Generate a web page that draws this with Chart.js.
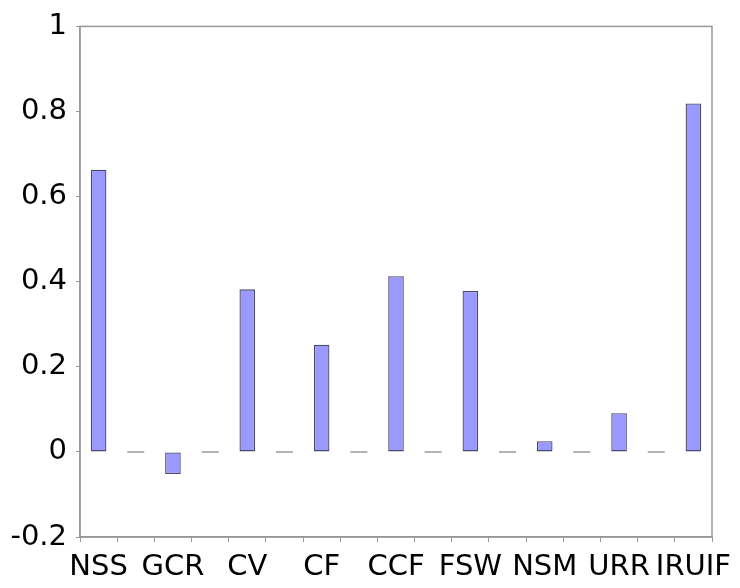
<!DOCTYPE html>
<html>
<head>
<meta charset="utf-8">
<script src="https://cdn.jsdelivr.net/npm/chart.js@4"></script>
<style>
    html, body { margin: 0; padding: 0; background: #fff; }
    #wrap { width: 740px; height: 588px; }
</style>
</head>
<body>
<div id="wrap"><canvas id="chart" width="740" height="588"></canvas></div>
<script>
// categories (empty slots sit between the named bars)
const categories = ['NSS', '', 'GCR', '', 'CV', '', 'CF', '', 'CCF', '', 'FSW', '', 'NSM', '', 'URR', '', 'IRUIF'];
// bar values, null where there is no bar
const barValues = [0.663, null, -0.052, null, 0.382, null, 0.252, null, 0.413, null, 0.378, null, 0.025, null, 0.091, null, 0.819];
// short grey zero marks in the empty slots
const zeroMarks = [null, 0, null, 0, null, 0, null, 0, null, 0, null, 0, null, 0, null, 0, null];
const yTicks = [-0.2, 0, 0.2, 0.4, 0.6, 0.8, 1];

const frameColor = '#999999';

// grey frame round the plot area
const framePlugin = {
    id: 'frame',
    afterDraw(chart) {
        const a = chart.chartArea;
        const ctx = chart.ctx;
        ctx.save();
        ctx.strokeStyle = frameColor;
        ctx.lineWidth = 1.5;
        ctx.strokeRect(a.left, a.top, a.right - a.left, a.bottom - a.top);
        ctx.restore();
    }
};

new Chart(document.getElementById('chart').getContext('2d'), {
    type: 'bar',
    data: {
        labels: categories,
        datasets: [{
            label: 'value',
            data: barValues,
            backgroundColor: '#9999ff',
            borderColor: '#4a4a6a',
            borderWidth: 1.3,
            borderSkipped: false,
            barPercentage: 0.42,
            categoryPercentage: 1.0
        }, {
            type: 'line',
            label: 'zero',
            data: zeroMarks,
            showLine: false,
            pointStyle: 'line',
            pointRadius: 8.5,
            pointHoverRadius: 8.5,
            borderColor: '#999999',
            borderWidth: 1.5
        }]
    },
    options: {
        responsive: false,
        animation: false,
        events: [],
        layout: { padding: { top: 14, right: 28, left: 0, bottom: 0 } },
        plugins: { legend: { display: false }, tooltip: { enabled: false } },
        scales: {
            x: {
                offset: true,
                grid: { offset: true, drawOnChartArea: false, drawTicks: true, tickLength: 5, color: frameColor },
                border: { color: frameColor, width: 1.5 },
                ticks: {
                    autoSkip: false, maxRotation: 0, minRotation: 0, padding: 8,
                    color: '#000', font: { family: 'DejaVu Sans', size: 29 }
                },
                afterFit(scale) { scale.height = 51; }
            },
            y: {
                min: -0.2,
                max: 1,
                afterBuildTicks(scale) { scale.ticks = yTicks.map(v => ({ value: v })); },
                grid: { drawOnChartArea: false, drawTicks: true, tickLength: 4, color: frameColor },
                border: { color: frameColor, width: 1.5 },
                ticks: {
                    padding: 9,
                    color: '#000',
                    font: { family: 'DejaVu Sans', size: 29 },
                    callback: v => String(Number(v.toFixed(1)))
                },
                afterFit(scale) { scale.width = 80; }
            }
        }
    },
    plugins: [framePlugin]
});
</script>
</body>
</html>
